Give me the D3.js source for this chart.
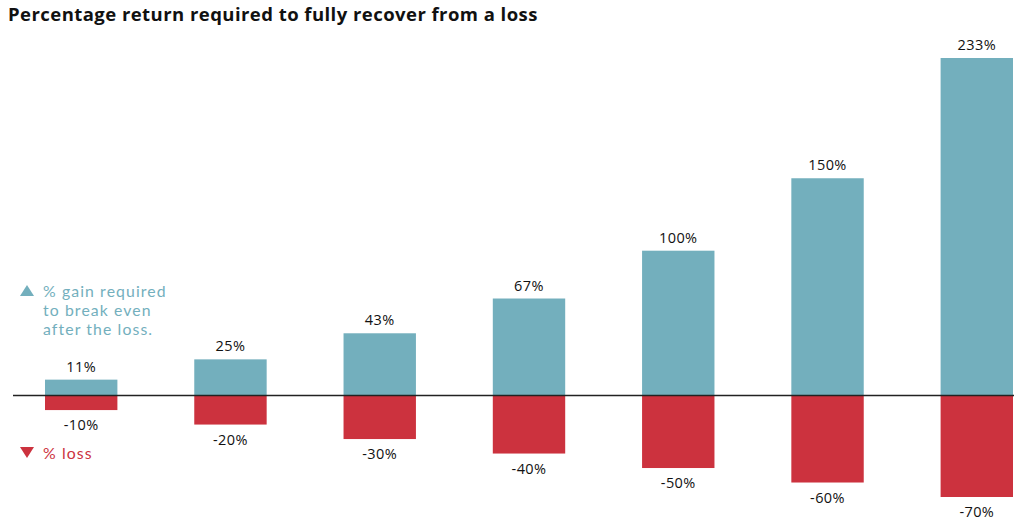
<html>
<head>
<title>Recovery from loss</title>
<script src="https://d3js.org/d3.v7.min.js"></script>
<style>
  body { margin: 0; background: #fff; }
  text { font-family: "Open Sans", Lato, sans-serif; }
</style>
</head>
<body>
<script>
  // data
  var losses = [-10, -20, -30, -40, -50, -60, -70];
  var gains  = [11, 25, 43, 67, 100, 150, 233];
  var gainLabels = ["11%", "25%", "43%", "67%", "100%", "150%", "233%"];
  var lossLabels = ["-10%", "-20%", "-30%", "-40%", "-50%", "-60%", "-70%"];
  var legendGain = ["% gain required", "to break even", "after the loss."];
  var legendLoss = "% loss";

  var teal = "#73afbd", red = "#cc323e";
  var width = 1024, height = 522;

  var svg = d3.select("body").append("svg")
      .attr("width", width)
      .attr("height", height);

  var x = d3.scaleBand()
      .domain(d3.range(gains.length))
      .range([45, 1013])
      .paddingInner(0.515)
      .paddingOuter(0);

  var y = d3.scaleLinear()
      .domain([-70, 233])
      .range([497, 58]);

  svg.append("text")
      .attr("x", 8).attr("y", 21)
      .attr("font-size", 18.5).attr("font-weight", 700)
      .attr("letter-spacing", 0.45)
      .attr("fill", "#111")
      .text("Percentage return required to fully recover from a loss");

  var bars = svg.selectAll("g.bar").data(gains).enter()
      .append("g").attr("class", "bar");

  bars.append("rect")
      .attr("x", function(d, i){ return x(i); })
      .attr("width", x.bandwidth())
      .attr("y", function(d){ return y(d); })
      .attr("height", function(d){ return y(0) - y(d); })
      .attr("fill", teal);

  bars.append("rect")
      .attr("x", function(d, i){ return x(i); })
      .attr("width", x.bandwidth())
      .attr("y", y(0))
      .attr("height", function(d, i){ return y(losses[i]) - y(0); })
      .attr("fill", red);

  bars.append("text")
      .attr("x", function(d, i){ return x(i) + x.bandwidth() / 2; })
      .attr("y", function(d){ return y(d) - 8; })
      .attr("text-anchor", "middle")
      .attr("font-size", 14.5).attr("letter-spacing", 0.4).attr("fill", "#111")
      .text(function(d, i){ return gainLabels[i]; });

  bars.append("text")
      .attr("x", function(d, i){ return x(i) + x.bandwidth() / 2; })
      .attr("y", function(d, i){ return y(losses[i]) + 20; })
      .attr("text-anchor", "middle")
      .attr("font-size", 14.5).attr("letter-spacing", 0.4).attr("fill", "#111")
      .text(function(d, i){ return lossLabels[i]; });

  svg.append("line")
      .attr("x1", 13).attr("x2", 1014)
      .attr("y1", y(0)).attr("y2", y(0))
      .attr("stroke", "#222").attr("stroke-width", 1.5);

  // legend (Lato so the three lines sit 19px apart without boxes overlapping)
  svg.append("path")
      .attr("d", "M20,296 L27,285 L34,296 Z")
      .attr("fill", teal);
  svg.selectAll("text.lg").data(legendGain).enter()
      .append("text").attr("class", "lg")
      .attr("x", 43)
      .attr("y", function(d, i){ return 297 + i * 19; })
      .style("font-family", "Lato, sans-serif")
      .attr("font-size", 15.8).attr("letter-spacing", 1.1).attr("fill", teal)
      .text(function(d){ return d; });

  svg.append("path")
      .attr("d", "M20,447 L27,458 L34,447 Z")
      .attr("fill", red);
  svg.append("text")
      .attr("x", 43).attr("y", 459)
      .style("font-family", "Lato, sans-serif")
      .attr("font-size", 15.8).attr("letter-spacing", 1.1).attr("fill", red)
      .text(legendLoss);
</script>
</body>
</html>
